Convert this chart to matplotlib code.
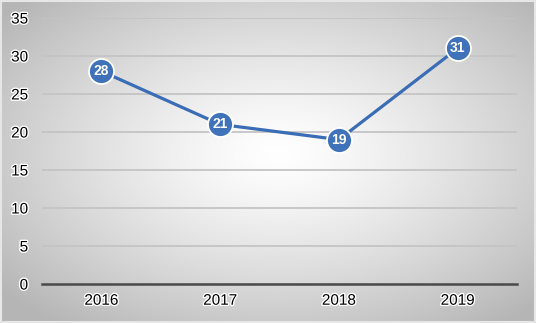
import numpy as np
import matplotlib
matplotlib.use("Agg")
import matplotlib.pyplot as plt
import matplotlib.patheffects as pe
from matplotlib.patches import Rectangle

plt.rcParams['font.family'] = ['Liberation Sans', 'DejaVu Sans']

years = ["2016", "2017", "2018", "2019"]
values = [28, 21, 19, 31]
y_ticks = [0, 5, 10, 15, 20, 25, 30, 35]

fig = plt.figure(figsize=(5.36, 3.23), dpi=100)

# radial gradient background, white centre fading to grey edges
bg = fig.add_axes([0, 0, 1, 1], zorder=0)
gx, gy = np.meshgrid(np.linspace(-1, 1, 536), np.linspace(-1, 1, 323))
r = np.sqrt((gx - 0.04) ** 2 + (gy - 0.05) ** 2)
r = np.clip(r / 1.35, 0, 1)
shade = 1.0 - 0.29 * r ** 1.3
img = np.dstack([shade, shade, shade])
bg.imshow(img, extent=[0, 1, 0, 1], aspect='auto', origin='lower')
bg.add_patch(Rectangle((0.002, 0.003), 0.996, 0.994, fill=False,
                       edgecolor='#e6e6e6', lw=1.5, transform=bg.transAxes))
bg.set_axis_off()

ax = fig.add_axes([0.0784, 0.1207, 0.8862, 0.8236], zorder=1)
ax.patch.set_alpha(0)

x = np.arange(len(years))
ax.plot(x, values, color='#3a6db5', lw=2.3, zorder=3,
        marker='o', markersize=18, markerfacecolor='#3f72b8',
        markeredgecolor='white', markeredgewidth=1.3)
for xi, v in zip(x, values):
    ax.text(xi, v, str(v), color='white', fontsize=10, fontweight='bold',
            ha='center', va='center', zorder=4)

ax.set_xlim(-0.5, len(years) - 0.5)
ax.set_ylim(0, 35)
ax.set_yticks(y_ticks)
ax.set_xticks(x)
ax.set_xticklabels(years)
ax.grid(axis='y', color='#c4c4c4', lw=1.3)
ax.set_axisbelow(True)
for s in ['top', 'right', 'left']:
    ax.spines[s].set_visible(False)
ax.spines['bottom'].set_color('#4a4a4a')
ax.spines['bottom'].set_linewidth(1.8)
ax.spines['bottom'].set_zorder(2)
ax.tick_params(length=0, labelsize=11, labelcolor='black')
ax.tick_params(axis='y', pad=10)
ax.tick_params(axis='x', pad=7)
halo = [pe.withStroke(linewidth=2, foreground='white')]
for lab in ax.get_xticklabels() + ax.get_yticklabels():
    lab.set_path_effects(halo)

fig.savefig("out.png", dpi=100)
